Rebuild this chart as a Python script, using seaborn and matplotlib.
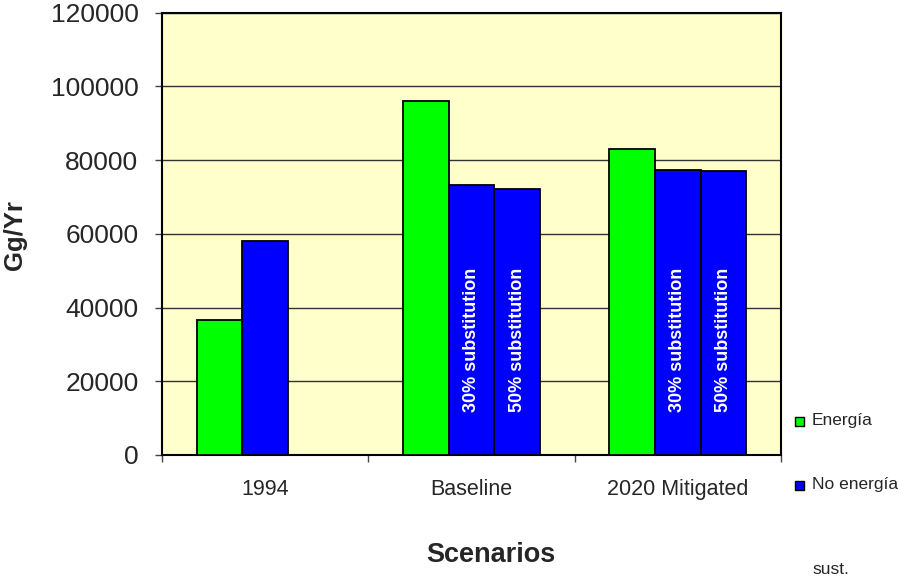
import numpy as np
import pandas as pd
import seaborn as sns
import matplotlib
matplotlib.use("Agg")
import matplotlib.pyplot as plt
from matplotlib.patches import Rectangle

# Emissions by scenario (Gg/Yr)
scenarios = ["1994", "Baseline", "2020 Mitigated"]
series_names = ["Energía", "No energía", "sust."]
energia = [36700, 96000, 82900]
no_energia = [58100, 73200, 77300]
no_energia_sust = [np.nan, 72300, 77000]
bar_text = {"No energía": "30% substitution", "sust.": "50% substitution"}
y_ticks = [0, 20000, 40000, 60000, 80000, 100000, 120000]
y_tick_labels = ["0", "20000", "40000", "60000", "80000", "100000", "120000"]

rows = []
for name, vals in zip(series_names, [energia, no_energia, no_energia_sust]):
    for sc, v in zip(scenarios, vals):
        if not np.isnan(v):
            rows.append({"Scenario": sc, "Serie": name, "Gg": v})
df = pd.DataFrame(rows)

sns.set_style("white")
plt.rcParams["font.family"] = ["Liberation Sans", "DejaVu Sans"]

W, H = 902, 582
fig = plt.figure(figsize=(W / 100, H / 100), dpi=100)
fig.patch.set_facecolor("white")
L, R, T, B = 162, 781, 12.7, 455
ax = fig.add_axes([L / W, 1 - B / H, (R - L) / W, (B - T) / H])
ax.set_facecolor("#FFFFCC")

palette = {"Energía": "#00FF00", "No energía": "#0000FF", "sust.": "#0000FF"}
sns.barplot(data=df, x="Scenario", y="Gg", hue="Serie", order=scenarios,
            hue_order=series_names, palette=palette, width=0.665,
            dodge=True, errorbar=None, edgecolor="black", linewidth=1.3,
            saturation=1, legend=False, ax=ax, zorder=3)

ax.set_ylim(0, 120000)
ax.set_xlim(-0.5, 2.5)
ax.set_yticks(y_ticks)
ax.set_yticklabels(y_tick_labels, fontsize=19)
ax.yaxis.grid(True, color="#333333", linewidth=1.0, zorder=0)
ax.set_axisbelow(True)
ax.tick_params(axis="y", which="major", direction="out", length=5,
               width=1, color="#444444", pad=12, left=True)
ax.set_xticks(range(len(scenarios)))
ax.set_xticklabels(scenarios, fontsize=15.5)
ax.tick_params(axis="x", which="major", length=0, pad=17)
ax.set_xticks([-0.5, 0.5, 1.5, 2.5], minor=True)
ax.tick_params(axis="x", which="minor", direction="out", length=5,
               width=1, color="#444444", bottom=True)
ax.set_xlabel("")
ax.set_ylabel("")
for sp in ax.spines.values():
    sp.set_visible(True)
    sp.set_color("black")
    sp.set_linewidth(1.5)

# White labels written up inside the substitution bars
for name, cont in zip(series_names, ax.containers):
    if name not in bar_text:
        continue
    for bar in cont:
        xc = bar.get_x() + bar.get_width() / 2
        if round(xc) >= 1:
            ax.text(xc, 11700, bar_text[name], rotation=90, ha="center",
                    va="bottom", color="white", fontsize=13,
                    fontweight="bold", zorder=5)

fig.text(15 / W, 1 - 235 / H, "Gg/Yr", rotation=90, ha="center",
         va="center", fontsize=18.5, fontweight="bold")
fig.text(491 / W, 1 - 555 / H, "Scenarios", ha="center", va="center",
         fontsize=19.5, fontweight="bold")

# Legend entries on the right
legend_rows = [("Energía", "#00FF00", 421), ("No energía", "#0000FF", 485),
               ("sust.", None, 570)]
for label, color, yc in legend_rows:
    if color is not None:
        fig.patches.append(Rectangle(((795) / W, 1 - (yc + 4.5) / H),
                                     9 / W, 9 / H, transform=fig.transFigure,
                                     facecolor=color, edgecolor="black",
                                     linewidth=1.0))
    fig.text(812 / W, 1 - yc / H, label, ha="left", va="center",
             fontsize=12.5)

fig.savefig("out.png", dpi=100)
